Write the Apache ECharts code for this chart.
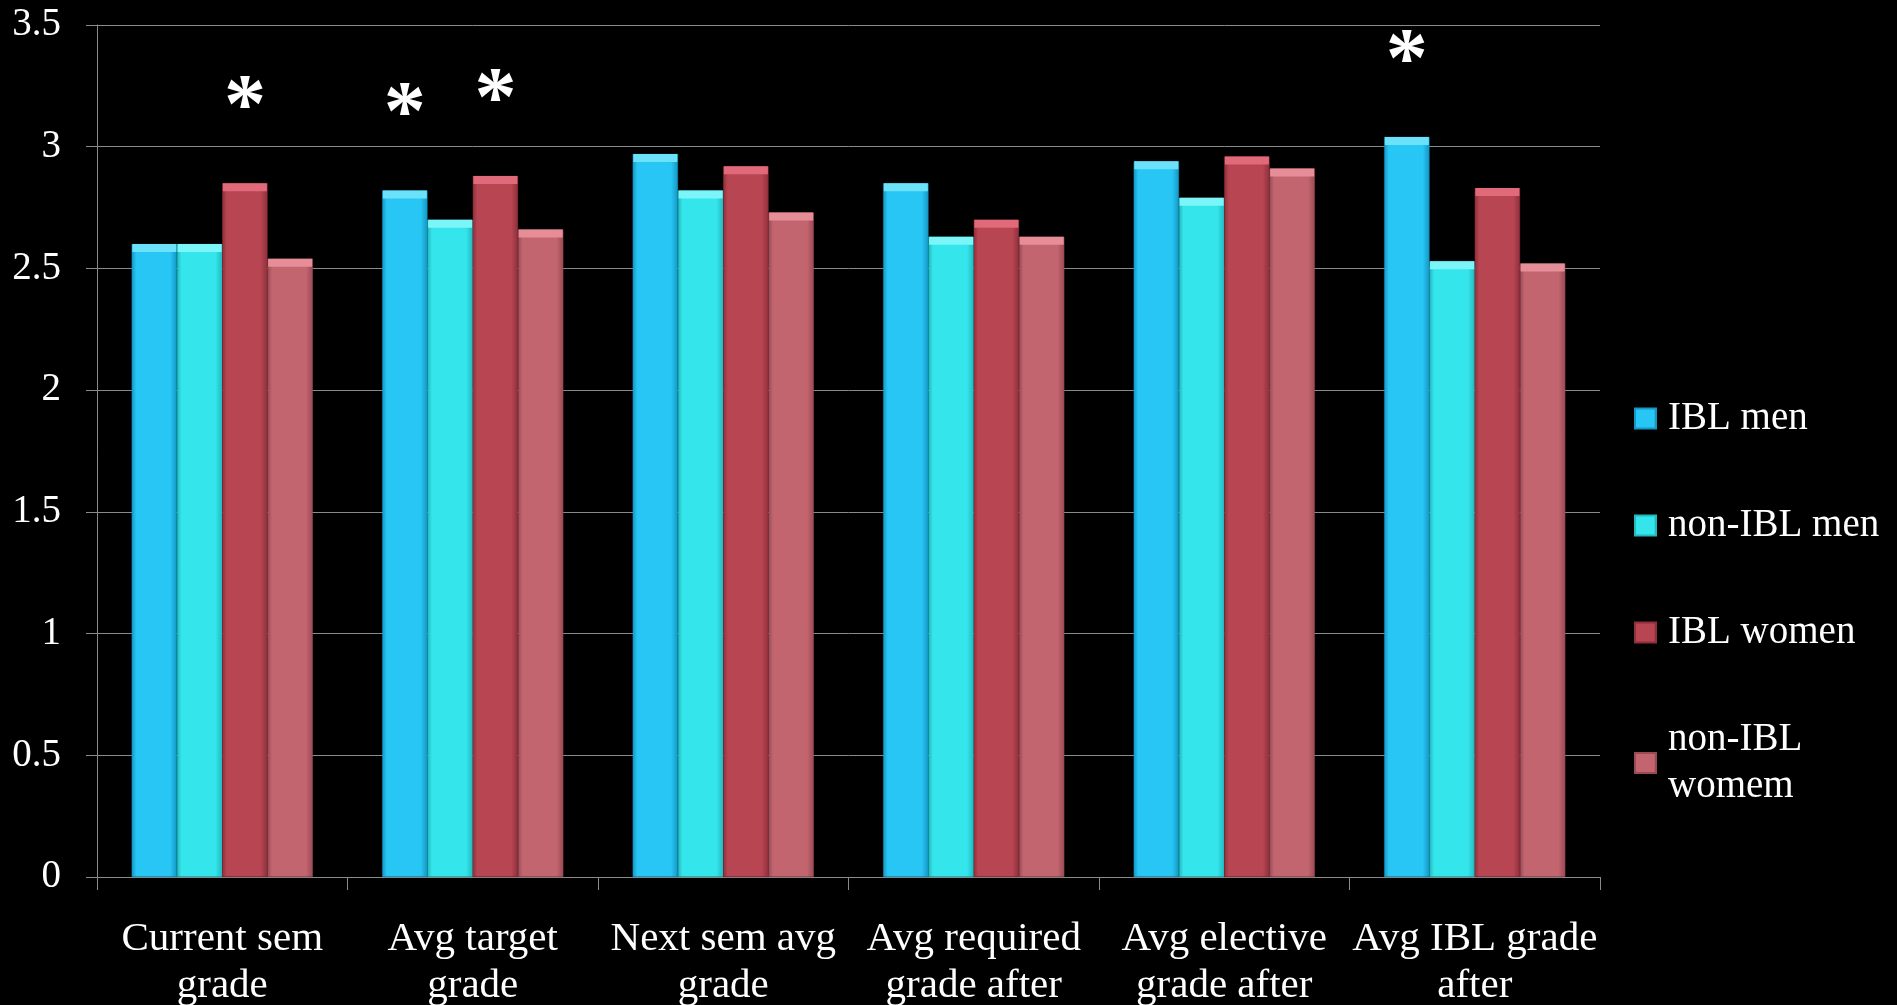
<!DOCTYPE html>
<html>
<head>
<meta charset="utf-8">
<style>
  html, body { margin: 0; padding: 0; background: #000; }
  #chart { width: 1897px; height: 1005px; }
</style>
<script src="https://cdn.jsdelivr.net/npm/echarts@6/dist/echarts.min.js"></script>
</head>
<body>
<div id="chart"></div>
<script>
const categories = [
  'Current sem\ngrade',
  'Avg target\ngrade',
  'Next sem avg\ngrade',
  'Avg required\ngrade after',
  'Avg elective\ngrade after',
  'Avg IBL grade\nafter'
];
const seriesNames = ['IBL men', 'non-IBL men', 'IBL women', 'non-IBL\nwomem'];
const iblMen      = [2.60, 2.82, 2.97, 2.85, 2.94, 3.04];
const nonIblMen   = [2.60, 2.70, 2.82, 2.63, 2.79, 2.53];
const iblWomen    = [2.85, 2.88, 2.92, 2.70, 2.96, 2.83];
const nonIblWomen = [2.54, 2.66, 2.73, 2.63, 2.91, 2.52];
// significance markers: category indices per series
const starIblMen   = [1, 5];
const starIblWomen = [0, 1];
const yTicks = { min: 0, max: 3.5, interval: 0.5 };

const FONT = '"Liberation Serif", "DejaVu Serif", serif';
const mains  = ['#27C6F4', '#34E5EC', '#B84552', '#C2656F'];
const darks  = ['#1596C4', '#22B8BE', '#8E2F3B', '#9A4A54'];
const bevels = ['#6BE2FA', '#7CF5F8', '#E0697A', '#E78D98'];

function grad(i) {
  return new echarts.graphic.LinearGradient(0, 0, 1, 0, [
    { offset: 0, color: darks[i] },
    { offset: 0.1, color: mains[i] },
    { offset: 0.85, color: mains[i] },
    { offset: 1, color: darks[i] }
  ]);
}

function starMarks(values, idxs) {
  return {
    symbol: 'rect',
    symbolSize: 1,
    itemStyle: { color: 'rgba(0,0,0,0)' },
    label: {
      show: true, formatter: '*', color: '#fff',
      fontFamily: FONT, fontSize: 84, fontWeight: 'bold', offset: [0, -73]
    },
    data: idxs.map(c => ({ coord: [c, values[c]] }))
  };
}

const allData = [iblMen, nonIblMen, iblWomen, nonIblWomen];
const series = allData.map((vals, i) => {
  const s = {
    name: seriesNames[i],
    type: 'bar',
    data: vals,
    barGap: '0%',
    barCategoryGap: '27.7%',
    itemStyle: { color: grad(i), borderColor: darks[i], borderWidth: 0.5 },
    label: {
      show: true, position: 'insideTop', distance: 0,
      formatter: ' ', backgroundColor: bevels[i],
      width: 44, height: 8, padding: 0, fontSize: 1
    },
    emphasis: { disabled: true }
  };
  if (i === 0) s.markPoint = starMarks(vals, starIblMen);
  if (i === 2) s.markPoint = starMarks(vals, starIblWomen);
  return s;
});

const chart = echarts.init(document.getElementById('chart'), null, { renderer: 'canvas' });
chart.setOption({
  backgroundColor: '#000',
  animation: false,
  color: mains,
  textStyle: { fontFamily: FONT },
  grid: { left: 97, right: 297, top: 25, bottom: 128, containLabel: false, outerBoundsMode: 'none' },
  legend: {
    orient: 'vertical',
    left: 1629,
    top: 390,
    itemWidth: 21,
    itemHeight: 20,
    itemGap: 60,
    icon: 'rect',
    textStyle: { color: '#fff', fontFamily: FONT, fontSize: 39, lineHeight: 47, padding: [0, 0, 0, 7] },
    data: seriesNames
  },
  xAxis: {
    type: 'category',
    data: categories,
    axisLine: { lineStyle: { color: '#8a8a8a', width: 1 } },
    axisTick: { show: true, length: 13, lineStyle: { color: '#8a8a8a' } },
    axisLabel: {
      color: '#fff', fontFamily: FONT, fontSize: 41, lineHeight: 47,
      margin: 39, interval: 0
    }
  },
  yAxis: {
    type: 'value',
    min: yTicks.min, max: yTicks.max, interval: yTicks.interval,
    axisLine: { show: true, lineStyle: { color: '#8a8a8a', width: 1 } },
    axisTick: { show: true, length: 11, lineStyle: { color: '#8a8a8a' } },
    splitLine: { show: true, lineStyle: { color: '#8a8a8a', width: 1 } },
    axisLabel: { color: '#fff', fontFamily: FONT, fontSize: 39, margin: 36 }
  },
  series: series
});
</script>
</body>
</html>
